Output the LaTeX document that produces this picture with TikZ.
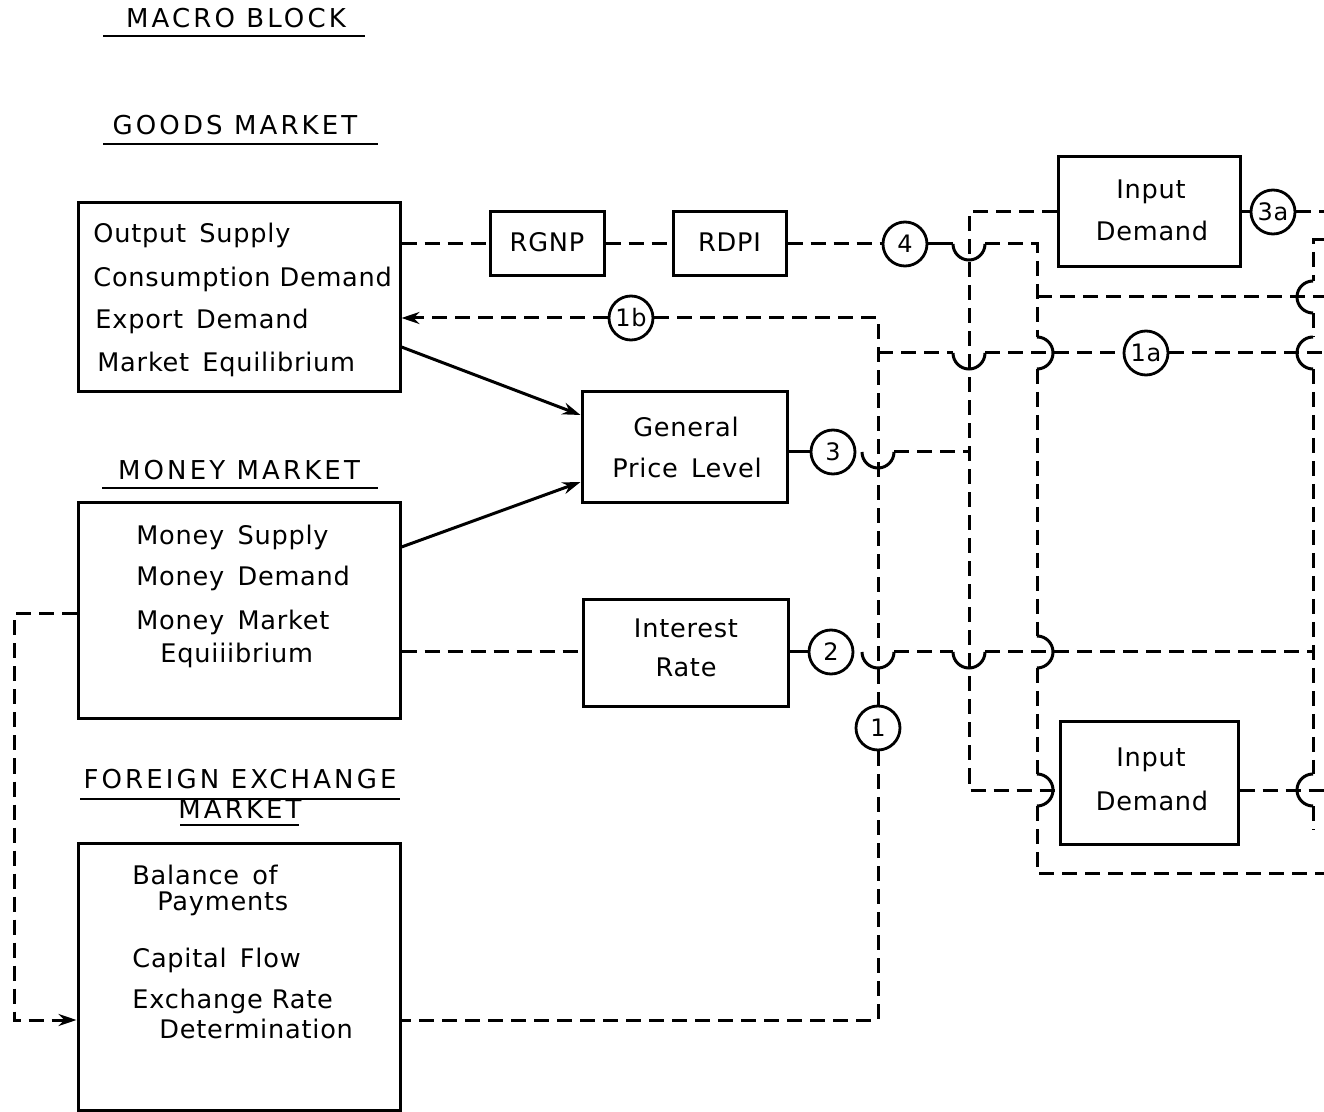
\documentclass[tikz,border=0pt]{standalone}
\usepackage{fontspec}
\setmainfont{DejaVu Sans}[LetterSpace=3]
\newfontfamily\ttlfont{DejaVu Sans}[LetterSpace=12]
\usetikzlibrary{arrows.meta}
\newcommand\hopU[2]{\draw[hp] (#1-16,#2) arc[start angle=180,end angle=360,radius=8pt];}
\newcommand\hopR[2]{\draw[hp] (#1,#2-16) arc[start angle=90,end angle=-90,radius=8pt];}
\newcommand\hopL[2]{\draw[hp] (#1,#2-16) arc[start angle=90,end angle=270,radius=8pt];}
\begin{document}
\begin{tikzpicture}[x=0.5pt,y=-0.5pt,
  box/.style={draw, line width=1.5pt, inner sep=0pt},
  dl/.style={line width=1.5pt, dash pattern=on 7.5pt off 4pt},
  hp/.style={line width=1.5pt},
  ul/.style={line width=1.2pt},
  circ/.style={draw, circle, line width=1.4pt, minimum size=22pt, inner sep=0pt, font=\fontsize{12}{12}\selectfont},
  txt/.style={anchor=base west, inner sep=0pt, font=\fontsize{12.8}{14}\selectfont},
  ctxt/.style={anchor=base, inner sep=0pt, font=\fontsize{12.8}{14}\selectfont},
  ttl/.style={anchor=base, inner sep=0pt, font=\ttlfont\fontsize{13}{15}\selectfont},
  tip/.style={-{Stealth[length=9pt,width=6pt]}}
]
\useasboundingbox (0,0) rectangle (1324,1112);

% titles
\node[ttl] (tmacro) at (236,28) {MACRO BLOCK};
\draw[ul] (103,36) -- (365,36);
\node[ttl] (tgoods) at (235,135) {GOODS MARKET};
\draw[ul] (103,144) -- (378,144);
\node[ttl] (tmoney) at (239,480) {MONEY MARKET};
\draw[ul] (102,488) -- (378,488);
\node[ttl] (tfx1) at (240,789) {FOREIGN EXCHANGE};
\draw[ul] (80,799) -- (400,799);
\node[ttl] (tfx2) at (240,819) {MARKET};
\draw[ul] (180,825) -- (299,825);

% boxes
\node[box, minimum width=161pt, minimum height=94.5pt] (goods) at (239,297.5) {};
\node[box, minimum width=161pt, minimum height=108pt] (money) at (239,611) {};
\node[box, minimum width=161pt, minimum height=133.5pt] (fx) at (239,976.5) {};
\node[box, minimum width=57pt, minimum height=32pt] (rgnp) at (547,244) {};
\node[box, minimum width=56.5pt, minimum height=32pt] (rdpi) at (729.5,244) {};
\node[box, minimum width=102.5pt, minimum height=55.5pt] (gpl) at (684.5,447.5) {};
\node[box, minimum width=102.5pt, minimum height=53.5pt] (ir) at (685.5,653.5) {};
\node[box, minimum width=91pt, minimum height=55pt] (ida) at (1149,212) {};
\node[box, minimum width=89pt, minimum height=61pt] (idb) at (1149,783) {};

% box texts
\node[txt] (g1) at (93,243) {Output\, Supply};
\node[txt] (g2) at (93,287) {Consumption Demand};
\node[txt] (g3) at (95,329) {Export\, Demand};
\node[txt] (g4) at (97,372) {Market\, Equilibrium};
\node[txt] (m1) at (136,545) {Money\, Supply};
\node[txt] (m2) at (136,586) {Money\, Demand};
\node[txt] (m3) at (136,630) {Money\, Market};
\node[txt] (m4) at (160,662) {Equiiibrium};
\node[txt] (f1) at (132,884) {Balance\, of};
\node[txt] (f2) at (157,910) {Payments};
\node[txt] (f3) at (132,967) {Capital\, Flow};
\node[txt] (f4) at (132,1008) {Exchange Rate};
\node[txt] (f5) at (159,1038) {Determination};
\node[ctxt] (r1) at (547,252) {RGNP};
\node[ctxt] (r2) at (729.5,252) {RDPI};
\node[ctxt] (p1) at (686,437) {General};
\node[ctxt] (p2) at (687,478) {Price\, Level};
\node[ctxt] (i1) at (686,638) {Interest};
\node[ctxt] (i2) at (686,677) {Rate};
\node[ctxt] (a1) at (1151,199) {Input};
\node[ctxt] (a2) at (1152,241) {Demand};
\node[ctxt] (b1) at (1151,767) {Input};
\node[ctxt] (b2) at (1152,810) {Demand};

% circles
\node[circ] (c4) at (905,244) {4};
\node[circ] (c1b) at (631,318) {1b};
\node[circ] (c1a) at (1146,353) {1a};
\node[circ] (c3) at (833,452) {3};
\node[circ] (c2) at (831,652) {2};
\node[circ] (c1) at (878,728) {1};
\node[circ] (c3a) at (1273,212) {3a};

% junction coordinates
\coordinate (v1top) at (878,318);
\coordinate (v1bot) at (878,1020);
\coordinate (v2top) at (969,212);
\coordinate (v2bot) at (969,790);
\coordinate (v3top) at (1037,244);
\coordinate (v3bot) at (1037,873);
\coordinate (v4top) at (1313,240);
\coordinate (v4bot) at (1313,830);
\coordinate (lt) at (14,614);
\coordinate (lb) at (14,1020);

% goods -> RGNP -> RDPI -> 4
\draw[dl] (goods.east |- rgnp.west) -- (rgnp.west);
\draw[dl] (rgnp.east) -- (rdpi.west);
\draw[dl] (rdpi.east) -- (c4.west);
% 4 -> bus
\draw[hp] (c4.east) -- (969-16,244);
\draw[dl] (969+16,244) -- (v3top) -- (1037,353-16)
  (1037,353+16) -- (1037,652-16) (1037,652+16) -- (1037,790-16)
  (1037,790+16) -- (v3bot) -- (1324,873);
\draw[dl] (1037,297) -- (1324,297);
\hopU{969}{244}
\hopR{1037}{353}
\hopR{1037}{652}
\hopR{1037}{790}

% price level bus
\draw[hp] (gpl.east |- c3.west) -- (c3.west);
\draw[dl] (878+16,452) -- (969,452);
\hopU{878}{452}
\draw[dl] (ida.west |- v2top) -- (v2top) -- (v2bot) -- (idb.west |- v2bot);

% exchange rate bus
\draw[dl, tip] (c1b.west) -- (goods.east |- c1b.west);
\draw[dl] (c1b.east) -- (v1top) -- (c1.north);
\draw[dl] (c1.south) -- (v1bot) -- (fx.east |- v1bot);
\draw[dl] (878,353) -- (969-16,353) (969+16,353) -- (c1a.west);
\draw[dl] (c1a.east) -- (1324,353);
\hopU{969}{353}

% interest rate
\draw[dl] (money.east |- c2.west) -- (ir.west |- c2.west);
\draw[hp] (ir.east |- c2.west) -- (c2.west);
\draw[dl] (878+16,652) -- (969-16,652) (969+16,652) -- (1313,652);
\hopU{878}{652}
\hopU{969}{652}

% right vertical
\draw[dl] (1324,240) -- (v4top) -- (1313,297-16) (1313,297+16) -- (1313,353-16)
  (1313,353+16) -- (1313,790-16) (1313,790+16) -- (v4bot);
\hopL{1313}{297}
\hopL{1313}{353}
\hopL{1313}{790}

% input demand outputs
\draw[hp] (ida.east |- c3a.west) -- (c3a.west);
\draw[dl] (c3a.east) -- (1324,212);
\draw[dl] (idb.east |- v2bot) -- (1324,790);

% money -> fx loop
\draw[dl, tip] (money.west |- lt) -- (lt) -- (lb) -- (fx.west |- lb);

% solid arrows to general price level
\draw[hp, tip] (goods.east |- 0,347) -- (gpl.west |- 0,415);
\draw[hp, tip] (money.east |- 0,547) -- (gpl.west |- 0,482);
\end{tikzpicture}
\end{document}
